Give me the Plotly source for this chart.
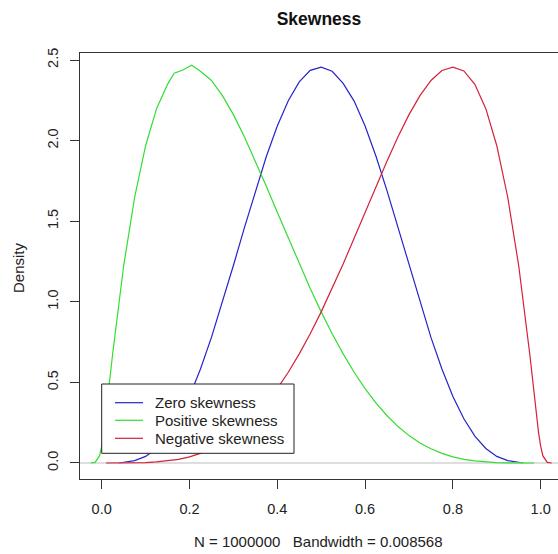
import plotly.graph_objects as go

# ---- data ----
zero_x = [0.04, 0.05, 0.075, 0.1, 0.125, 0.15, 0.175, 0.2, 0.225, 0.25, 0.275, 0.3, 0.325, 0.35,
          0.375, 0.4, 0.425, 0.45, 0.475, 0.5, 0.525, 0.55, 0.575, 0.6, 0.625, 0.65, 0.675, 0.7,
          0.725, 0.75, 0.775, 0.8, 0.825, 0.85, 0.875, 0.9, 0.925, 0.95, 0.96]
zero_y = [0.0, 0.003, 0.015, 0.041, 0.090, 0.167, 0.274, 0.413, 0.583, 0.779, 0.995, 1.225, 1.459, 1.688,
          1.901, 2.090, 2.247, 2.364, 2.436, 2.455, 2.430, 2.355, 2.245, 2.090, 1.901, 1.688, 1.459, 1.225,
          0.995, 0.779, 0.583, 0.413, 0.274, 0.167, 0.090, 0.041, 0.015, 0.003, 0.0]

pos_x = [-0.025, -0.015, -0.005, 0.0, 0.005, 0.015, 0.025, 0.05, 0.075, 0.1, 0.125, 0.15, 0.165,
         0.185, 0.205, 0.225, 0.25, 0.275, 0.3, 0.325, 0.35, 0.375, 0.4, 0.425, 0.45, 0.475, 0.5,
         0.525, 0.55, 0.575, 0.6, 0.625, 0.65, 0.675, 0.7, 0.725, 0.75, 0.775, 0.8, 0.825, 0.85,
         0.875, 0.9, 0.925, 0.95, 0.985]
pos_y = [0.0, 0.004, 0.044, 0.103, 0.19, 0.427, 0.678, 1.222, 1.647, 1.968, 2.198, 2.349, 2.418,
         2.438, 2.467, 2.430, 2.373, 2.279, 2.161, 2.024, 1.874, 1.717, 1.555, 1.394, 1.235, 1.083, 0.9375,
         0.802, 0.677, 0.563, 0.461, 0.371, 0.293, 0.226, 0.170, 0.124, 0.088, 0.060, 0.038, 0.023, 0.013,
         0.0064, 0.0027, 0.0009, 0.0002, 0.0]

neg_x = [0.01, 0.05, 0.075, 0.1, 0.125, 0.15, 0.175, 0.2, 0.225, 0.25, 0.275, 0.3, 0.325, 0.35,
         0.375, 0.4, 0.425, 0.45, 0.475, 0.5, 0.525, 0.55, 0.575, 0.6, 0.625, 0.65, 0.675, 0.7,
         0.725, 0.75, 0.775, 0.8, 0.825, 0.85, 0.875, 0.9, 0.925, 0.95, 0.975, 0.985, 0.995, 1.0,
         1.005, 1.015, 1.025]
neg_y = [0.0, 0.0002, 0.0009, 0.0027, 0.0064, 0.013, 0.023, 0.038, 0.060, 0.088, 0.124, 0.170, 0.226, 0.293,
         0.371, 0.461, 0.563, 0.677, 0.802, 0.9375, 1.083, 1.235, 1.394, 1.555, 1.717, 1.874, 2.024, 2.161,
         2.279, 2.373, 2.435, 2.455, 2.432, 2.349, 2.198, 1.968, 1.647, 1.222, 0.678, 0.427, 0.19, 0.103,
         0.044, 0.004, 0.0]

series_names = ["Zero skewness", "Positive skewness", "Negative skewness"]
x_ticks = [0.0, 0.2, 0.4, 0.6, 0.8, 1.0]
x_tick_labels = ["0.0", "0.2", "0.4", "0.6", "0.8", "1.0"]
y_ticks = [0.0, 0.5, 1.0, 1.5, 2.0, 2.5]
y_tick_labels = ["0.0", "0.5", "1.0", "1.5", "2.0", "2.5"]

x_range = [-0.0494, 1.0394]
y_range = [-0.0993, 2.5434]

BLUE = "#2424c8"
GREEN = "#33dd33"
RED = "#d42038"
TXT = "#222222"
AX = "#333333"
FONT = "Liberation Sans, Arial, sans-serif"
colors = [BLUE, GREEN, RED]

W, H = 558, 554
ML, MR, MT, MB = 80, 0, 53, 75
PW, PH = W - ML - MR, H - MT - MB


def px(xp):
    return (xp - ML) / PW


def py(yp):
    return (H - MB - yp) / PH


fig = go.Figure()
fig.add_trace(go.Scatter(x=zero_x, y=zero_y, mode="lines", name=series_names[0], showlegend=False,
                         line=dict(color=BLUE, width=1.2)))
fig.add_trace(go.Scatter(x=x_range, y=[0, 0], mode="lines", showlegend=False, hoverinfo="skip",
                         line=dict(color="#bdbdbd", width=1)))
fig.add_trace(go.Scatter(x=pos_x, y=pos_y, mode="lines", name=series_names[1], showlegend=False,
                         line=dict(color=GREEN, width=1.2)))
fig.add_trace(go.Scatter(x=neg_x, y=neg_y, mode="lines", name=series_names[2], showlegend=False,
                         line=dict(color=RED, width=1.2)))

# legend box drawn like R's legend()
shapes = [dict(type="rect", xref="paper", yref="paper", layer="above",
               x0=px(101.7), x1=px(294), y0=py(453.3), y1=py(384),
               line=dict(color=TXT, width=1), fillcolor="white")]
annotations = []
row_y = [402.7, 420.3, 438.3]
for name, col, ry in zip(series_names, colors, row_y):
    shapes.append(dict(type="line", xref="paper", yref="paper", layer="above",
                       x0=px(115), x1=px(143), y0=py(ry), y1=py(ry),
                       line=dict(color=col, width=1.2)))
    annotations.append(dict(text=name, xref="paper", yref="paper", x=px(152.5), y=py(ry),
                            xanchor="left", yanchor="middle", showarrow=False,
                            font=dict(size=15, color=TXT)))

annotations += [
    dict(text="N = 1000000\u00a0\u00a0 Bandwidth = 0.008568", xref="paper", yref="paper",
         x=px(318), y=py(541), xanchor="center", yanchor="middle",
         showarrow=False, font=dict(size=15, color=TXT)),
    dict(text="Density", xref="paper", yref="paper", textangle=-90,
         x=px(18), y=py(268), xanchor="center", yanchor="middle",
         showarrow=False, font=dict(size=15, color=TXT)),
]

fig.update_layout(
    width=W, height=H,
    margin=dict(l=ML, r=MR, t=MT, b=MB, pad=0),
    paper_bgcolor="white", plot_bgcolor="white",
    font=dict(family=FONT, size=15, color=TXT),
    title=dict(text="<b>Skewness</b>", x=0.5, xref="paper", xanchor="center",
               y=1 - 18.5 / H, yref="container", yanchor="middle",
               font=dict(size=17.5, color="#111111")),
    showlegend=False,
    xaxis=dict(range=x_range, tickvals=x_ticks, ticktext=x_tick_labels,
               ticks="outside", ticklen=9, tickwidth=1, tickcolor=AX, ticklabelstandoff=8,
               showline=True, linecolor=AX, linewidth=1, mirror=True,
               showgrid=False, zeroline=False, tickfont=dict(size=14.5, color=TXT)),
    yaxis=dict(range=y_range, tickvals=y_ticks, ticktext=y_tick_labels, tickangle=-90,
               ticks="outside", ticklen=9, tickwidth=1, tickcolor=AX, ticklabelstandoff=6,
               showline=True, linecolor=AX, linewidth=1, mirror=False,
               showgrid=False, zeroline=False, tickfont=dict(size=14.5, color=TXT)),
    shapes=shapes,
    annotations=annotations,
)

fig.write_html("out.html")
